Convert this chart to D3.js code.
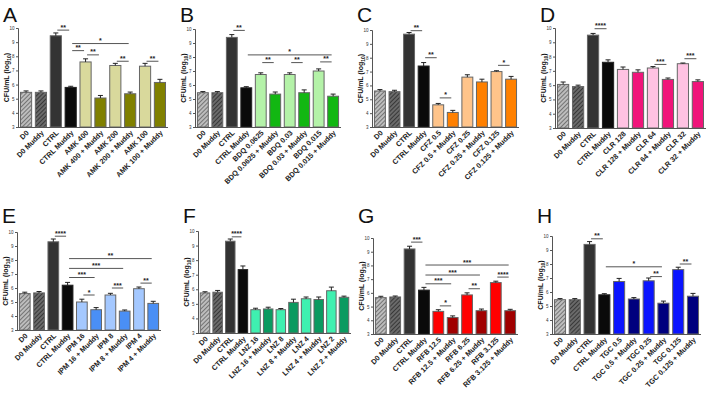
<!DOCTYPE html>
<html lang="en">
<head>
    <meta charset="UTF-8">
    <title>CFU panels</title>
    <script src="https://d3js.org/d3.v7.min.js"></script>
    <style>
        body {
            margin: 0;
            background: #fff;
            font-family: "Liberation Sans", Arial, sans-serif;
        }
    </style>
</head>
<body>
    <div id="chart"></div>

    <script>
        // Values (log10 CFU/mL), one set of arrays per panel
        const labelsA = ["D0", "D0 Muddy", "CTRL", "CTRL Muddy", "AMK 400", "AMK 400 + Muddy", "AMK 200", "AMK 200 + Muddy", "AMK 100", "AMK 100 + Muddy"];
        const valuesA = [5.45, 5.45, 9.45, 5.8, 7.6, 5.05, 7.35, 5.35, 7.3, 6.15];
        const errorsA = [0.1, 0.1, 0.2, 0.08, 0.22, 0.18, 0.15, 0.12, 0.2, 0.22];
        const sigA = [[2, 3, 9.85, "**"], [3, 7, 8.9, "*"], [3, 4, 8.4, "**"], [4, 5, 8.1, "**"], [6, 7, 7.65, "**"], [8, 9, 7.65, "**"]];

        const labelsB = ["D0", "D0 Muddy", "CTRL", "CTRL Muddy", "BDQ 0.0625", "BDQ 0.0625 + Muddy", "BDQ 0.03", "BDQ 0.03 + Muddy", "BDQ 0.015", "BDQ 0.015 + Muddy"];
        const valuesB = [5.45, 5.45, 9.4, 5.8, 6.75, 5.35, 6.75, 5.45, 7.0, 5.2];
        const errorsB = [0.08, 0.08, 0.2, 0.08, 0.12, 0.15, 0.12, 0.2, 0.15, 0.15];
        const sigB = [[2, 3, 9.9, "**"], [3, 9, 8.15, "*"], [4, 5, 7.6, "**"], [6, 7, 7.6, "**"], [8, 9, 7.65, "**"]];

        const labelsC = ["D0", "D0 Muddy", "CTRL", "CTRL Muddy", "CFZ 0.5", "CFZ 0.5 + Muddy", "CFZ 0.25", "CFZ 0.25 + Muddy", "CFZ 0.125", "CFZ 0.125 + Muddy"];
        const valuesC = [5.6, 5.55, 9.7, 7.4, 4.6, 4.05, 6.6, 6.25, 7.0, 6.45];
        const errorsC = [0.1, 0.1, 0.12, 0.25, 0.1, 0.15, 0.17, 0.2, 0.06, 0.2];
        const sigC = [[2, 3, 9.95, "**"], [3, 4, 8.0, "**"], [4, 5, 5.1, "*"], [8, 9, 7.45, "*"]];

        const labelsD = ["D0", "D0 Muddy", "CTRL", "CTRL Muddy", "CLR 128", "CLR 128 + Muddy", "CLR 64", "CLR 64 + Muddy", "CLR 32", "CLR 32 + Muddy"];
        const valuesD = [6.05, 5.9, 9.5, 7.6, 7.1, 6.9, 7.2, 6.4, 7.5, 6.25];
        const errorsD = [0.17, 0.1, 0.12, 0.17, 0.17, 0.17, 0.1, 0.1, 0.05, 0.12];
        const sigD = [[2, 3, 9.95, "****"], [6, 7, 7.45, "***"], [8, 9, 7.85, "***"]];

        const labelsE = ["D0", "D0 Muddy", "CTRL", "CTRL Muddy", "IPM 16", "IPM 16 + Muddy", "IPM 8", "IPM 8 + Muddy", "IPM 4", "IPM 4 + Muddy"];
        const valuesE = [5.6, 5.65, 9.3, 6.2, 5.0, 4.45, 5.5, 4.35, 5.95, 4.9];
        const errorsE = [0.1, 0.1, 0.2, 0.2, 0.2, 0.15, 0.12, 0.08, 0.12, 0.15];
        const sigE = [[2, 3, 9.7, "****"], [3, 9, 8.1, "**"], [3, 7, 7.4, "***"], [3, 5, 6.75, "***"], [4, 5, 5.5, "*"], [6, 7, 6.0, "***"], [8, 9, 6.35, "**"]];

        const labelsF = ["D0", "D0 Muddy", "CTRL", "CTRL Muddy", "LNZ 16", "LNZ 16 + Muddy", "LNZ 8", "LNZ 8 + Muddy", "LNZ 4", "LNZ 4 + Muddy", "LNZ 2", "LNZ 2 + Muddy"];
        const valuesF = [5.75, 5.8, 9.3, 7.35, 4.6, 4.65, 4.6, 5.1, 5.35, 5.3, 5.9, 5.45];
        const errorsF = [0.08, 0.12, 0.15, 0.25, 0.1, 0.12, 0.08, 0.22, 0.12, 0.17, 0.25, 0.08];
        const sigF = [[2, 3, 9.6, "****"]];

        const labelsG = ["D0", "D0 Muddy", "CTRL", "CTRL Muddy", "RFB 12.5", "RFB 12.5 + Muddy", "RFB 6.25", "RFB 6.25 + Muddy", "RFB 3.125", "RFB 3.125 + Muddy"];
        const valuesG = [5.65, 5.7, 9.2, 6.2, 4.65, 4.2, 5.85, 4.7, 6.75, 4.7];
        const errorsG = [0.1, 0.07, 0.2, 0.2, 0.12, 0.12, 0.15, 0.12, 0.1, 0.1];
        const sigG = [[2, 3, 9.7, "***"], [3, 9, 8.03, "***"], [3, 7, 7.3, "***"], [3, 5, 6.66, "***"], [4, 5, 5.05, "*"], [6, 7, 6.3, "**"], [8, 9, 7.15, "****"]];

        const labelsH = ["D0", "D0 Muddy", "CTRL", "CTRL Muddy", "TGC 0.5", "TGC 0.5 + Muddy", "TGC 0.25", "TGC 0.25 + Muddy", "TGC 0.125", "TGC 0.125 + Muddy"];
        const valuesH = [5.45, 5.45, 9.4, 5.8, 6.75, 5.5, 6.8, 5.2, 7.6, 5.7];
        const errorsH = [0.08, 0.08, 0.2, 0.08, 0.22, 0.1, 0.2, 0.15, 0.17, 0.2];
        const sigH = [[2, 3, 9.8, "**"], [3, 7, 7.8, "*"], [6, 7, 7.1, "**"], [8, 9, 8.0, "**"]];

        const yTicks = [3, 4, 5, 6, 7, 8, 9, 10];

        // panel boxes (pixel placement of each plot area) and drug colours
        const panels = [
            { letter: "A", labels: labelsA, values: valuesA, errors: errorsA, sig: sigA, light: "#d9d99c", dark: "#808000", x0: 18, x1: 167, top: 28, bottom: 127, ly: 22 },
            { letter: "B", labels: labelsB, values: valuesB, errors: errorsB, sig: sigB, light: "#b4f2a8", dark: "#12b712", x0: 195, x1: 340, top: 29, bottom: 127, ly: 22 },
            { letter: "C", labels: labelsC, values: valuesC, errors: errorsC, sig: sigC, light: "#ffc48a", dark: "#ff8000", x0: 372, x1: 518, top: 30, bottom: 127, ly: 22 },
            { letter: "D", labels: labelsD, values: valuesD, errors: errorsD, sig: sigD, light: "#ffc2e2", dark: "#f0147a", x0: 555, x1: 705, top: 28, bottom: 128, ly: 22 },
            { letter: "E", labels: labelsE, values: valuesE, errors: errorsE, sig: sigE, light: "#a4c8ff", dark: "#4a8ff5", x0: 17, x1: 160, top: 232, bottom: 330, ly: 223 },
            { letter: "F", labels: labelsF, values: valuesF, errors: errorsF, sig: sigF, light: "#3ff0b0", dark: "#0a9a60", x0: 198, x1: 350, top: 231, bottom: 333, ly: 223 },
            { letter: "G", labels: labelsG, values: valuesG, errors: errorsG, sig: sigG, light: "#ff0000", dark: "#a00000", x0: 373, x1: 517, top: 238, bottom: 334, ly: 223 },
            { letter: "H", labels: labelsH, values: valuesH, errors: errorsH, sig: sigH, light: "#0a14ff", dark: "#00007e", x0: 552, x1: 700, top: 236, bottom: 334, ly: 223 }
        ];

        const width = 711;
        const height = 396;

        const svg = d3.select("#chart").append("svg")
            .attr("width", width)
            .attr("height", height)
            .attr("viewBox", [0, 0, width, height]);

        // hatch patterns for the D0 bars
        const defs = svg.append("defs");
        [["hatchLight", "#bdbdbd", "#555"], ["hatchDark", "#6a6a6a", "#222"]].forEach(([id, bg, fg]) => {
            const p = defs.append("pattern")
                .attr("id", id)
                .attr("patternUnits", "userSpaceOnUse")
                .attr("width", 3)
                .attr("height", 3)
                .attr("patternTransform", "rotate(45)");
            p.append("rect").attr("width", 3).attr("height", 3).attr("fill", bg);
            p.append("line").attr("x1", 0).attr("y1", 0).attr("x2", 0).attr("y2", 3)
                .attr("stroke", fg).attr("stroke-width", 1.4);
        });

        function barFill(panel, i) {
            if (i === 0) return "url(#hatchLight)";
            if (i === 1) return "url(#hatchDark)";
            if (i === 2) return "#333";
            if (i === 3) return "#0a0a0a";
            return (i % 2 === 0) ? panel.light : panel.dark;
        }

        panels.forEach(panel => {
            const g = svg.append("g");

            const x = d3.scaleBand()
                .domain(d3.range(panel.labels.length))
                .range([panel.x0 + 1, panel.x1])
                .paddingInner(0.25)
                .paddingOuter(0.1);

            const y = d3.scaleLinear()
                .domain([3, 10])
                .range([panel.bottom, panel.top]);

            // panel letter
            g.append("text")
                .attr("x", panel.x0 - 15)
                .attr("y", panel.ly)
                .attr("font-size", 21)
                .attr("fill", "#111")
                .text(panel.letter);

            // bars
            g.selectAll(".bar")
                .data(panel.values)
                .join("rect")
                .attr("x", (d, i) => x(i))
                .attr("y", d => y(d))
                .attr("width", x.bandwidth())
                .attr("height", d => y(3) - y(d))
                .attr("fill", (d, i) => barFill(panel, i))
                .attr("stroke", (d, i) => i === 3 ? "#222" : "#666")
                .attr("stroke-width", 1);

            // error bars (upper only)
            const err = g.append("g").attr("stroke", "#222").attr("stroke-width", 1);
            panel.values.forEach((v, i) => {
                const cx = x(i) + x.bandwidth() / 2;
                err.append("line")
                    .attr("x1", cx).attr("x2", cx)
                    .attr("y1", y(v)).attr("y2", y(v + panel.errors[i]));
                err.append("line")
                    .attr("x1", cx - 2.5).attr("x2", cx + 2.5)
                    .attr("y1", y(v + panel.errors[i])).attr("y2", y(v + panel.errors[i]));
            });

            // y axis
            const yAxis = g.append("g")
                .attr("transform", `translate(${panel.x0},0)`)
                .call(d3.axisLeft(y).tickValues(yTicks).tickFormat(d3.format("d")).tickSize(2).tickPadding(1.5));
            yAxis.selectAll("text").attr("font-size", 4.5).attr("fill", "#333")
                .attr("font-family", "Liberation Sans, Arial, sans-serif");
            yAxis.select(".domain").attr("stroke", "#555");
            yAxis.selectAll(".tick line").attr("stroke", "#555");

            // x axis line
            g.append("line")
                .attr("x1", panel.x0).attr("x2", panel.x1 + 1)
                .attr("y1", panel.bottom + 0.5).attr("y2", panel.bottom + 0.5)
                .attr("stroke", "#555");

            // y axis title
            const yt = g.append("text")
                .attr("transform", `translate(${panel.x0 - 9},${(panel.top + panel.bottom) / 2}) rotate(-90)`)
                .attr("text-anchor", "middle")
                .attr("font-size", 7)
                .attr("font-weight", "bold")
                .attr("fill", "#111");
            yt.append("tspan").text("CFU/mL (log");
            yt.append("tspan").attr("font-size", 5).attr("dy", 1.5).text("10");
            yt.append("tspan").attr("dy", -1.5).text(")");

            // category labels
            g.selectAll(".xlab")
                .data(panel.labels)
                .join("text")
                .attr("transform", (d, i) => `translate(${x(i) + x.bandwidth() / 2 + 2},${panel.bottom + 5}) rotate(-45)`)
                .attr("text-anchor", "end")
                .attr("dominant-baseline", "middle")
                .attr("font-size", 7.3)
                .attr("font-weight", "bold")
                .attr("fill", "#222")
                .text(d => d);

            // significance lines
            panel.sig.forEach(([a, b, v, label]) => {
                const xa = x(a) + x.bandwidth() / 2 + 1.5;
                const xb = x(b) + x.bandwidth() / 2 - 1.5;
                g.append("line")
                    .attr("x1", xa).attr("x2", xb)
                    .attr("y1", y(v)).attr("y2", y(v))
                    .attr("stroke", "#555")
                    .attr("stroke-width", 1);
                g.append("text")
                    .attr("x", (xa + xb) / 2)
                    .attr("y", y(v) - 0.5)
                    .attr("text-anchor", "middle")
                    .attr("font-size", 7)
                    .attr("font-weight", "bold")
                    .attr("fill", "#222")
                    .text(label);
            });
        });
    </script>
</body>
</html>
